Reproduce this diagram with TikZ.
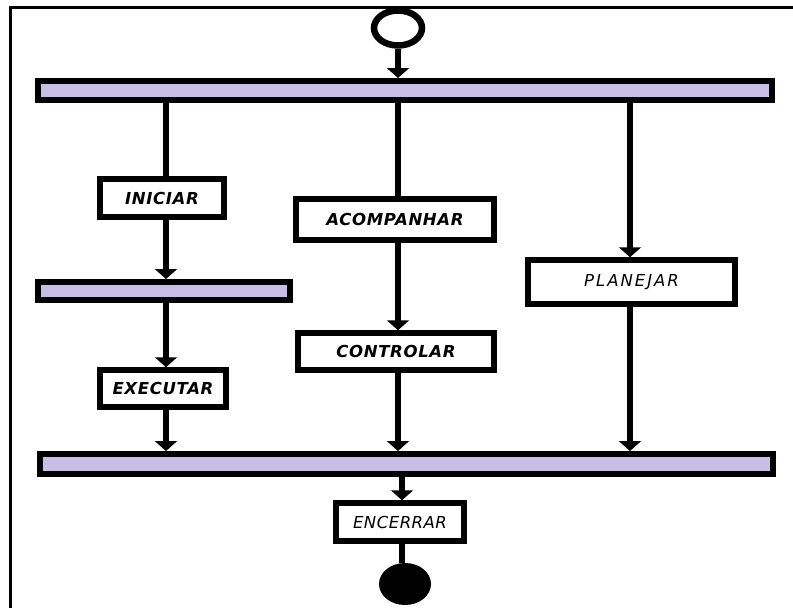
\documentclass[tikz,border=0pt]{standalone}
\usepackage{fontspec}
\setmainfont{DejaVu Sans}
\usetikzlibrary{arrows.meta,shapes.geometric}
\definecolor{barfill}{RGB}{199,191,229}
\begin{document}
\begin{tikzpicture}[x=1pt,y=-1pt,
  bar/.style={draw=black,line width=6pt,fill=barfill,inner sep=0pt,rectangle},
  act/.style={draw=black,line width=5.5pt,fill=white,inner sep=0pt,rectangle,
    font=\fontsize{16.5}{19}\selectfont\bfseries\itshape\addfontfeatures{LetterSpace=4}},
  lightact/.style={act,font=\fontsize{16.5}{19}\selectfont\itshape\addfontfeatures{LetterSpace=12}},
  flow/.style={line width=6pt},
  flowarr/.style={line width=6pt,-{Triangle[width=22pt,length=10pt]}},
  frame/.style={line width=3pt}
]
\useasboundingbox (0,0) rectangle (793,608);
% page frame
\draw[frame] (793,7) -- (10,7) -- (10,608);

% start and end states
\node[draw=black,line width=6.5pt,ellipse,minimum width=48pt,minimum height=35pt,inner sep=0pt] (start) at (398,28) {};
\node[fill=black,ellipse,minimum width=52pt,minimum height=42pt,inner sep=0pt] (stop) at (405,584) {};

% synchronisation bars
\node[bar,minimum width=734pt,minimum height=19pt] (fork) at (405,90.5) {};
\node[bar,minimum width=252pt,minimum height=18pt] (sync) at (164,291) {};
\node[bar,minimum width=733pt,minimum height=20pt] (join) at (406.5,464) {};

% activities
\node[act,minimum width=124pt,minimum height=38pt] (iniciar) at (162,198) {INICIAR};
\node[act,minimum width=198pt,minimum height=41pt] (acomp) at (395,219.5) {ACOMPANHAR};
\node[lightact,minimum width=207pt,minimum height=44pt] (planejar) at (631.5,282) {PLANEJAR};
\node[act,minimum width=196pt,minimum height=37pt] (controlar) at (396,351.5) {CONTROLAR};
\node[act,minimum width=126pt,minimum height=37pt] (executar) at (163,388.5) {EXECUTAR};
\node[lightact,minimum width=128pt,minimum height=38pt,font=\fontsize{16.5}{19}\selectfont\itshape\addfontfeatures{LetterSpace=3}] (encerrar) at (400,522) {ENCERRAR};

% column lines
\coordinate (colL) at (166,0);
\coordinate (colM) at (398,0);
\coordinate (colR) at (630,0);
\coordinate (colE) at (402,0);

% flows
\draw[flowarr] (start.south -| colM) -- (colM |- fork.north);
\draw[flow] (colL |- fork.south) -- (colL |- iniciar.north);
\draw[flowarr] (colL |- iniciar.south) -- (colL |- sync.north);
\draw[flowarr] (colL |- sync.south) -- (colL |- executar.north);
\draw[flowarr] (colL |- executar.south) -- (colL |- join.north);
\draw[flow] (colM |- fork.south) -- (colM |- acomp.north);
\draw[flowarr] (colM |- acomp.south) -- (colM |- controlar.north);
\draw[flowarr] (colM |- controlar.south) -- (colM |- join.north);
\draw[flowarr] (colR |- fork.south) -- (colR |- planejar.north);
\draw[flowarr] (colR |- planejar.south) -- (colR |- join.north);
\draw[flowarr] (colE |- join.south) -- (colE |- encerrar.north);
\draw[flow] (colE |- encerrar.south) -- (colE |- stop.north);
\end{tikzpicture}
\end{document}
